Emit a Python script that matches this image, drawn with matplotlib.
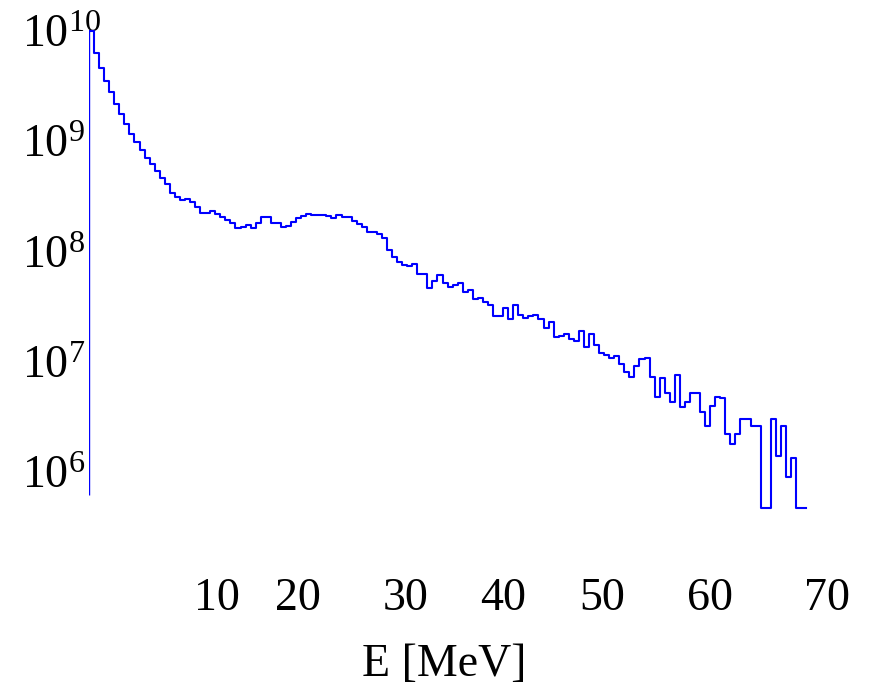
"""Energy spectrum histogram, log counts vs E [MeV]."""

import matplotlib

matplotlib.use("Agg")
import matplotlib.pyplot as plt
import numpy as np
from matplotlib.ticker import FixedLocator, LogFormatterMathtext

# bin edges: 0 .. 71 MeV in 0.5 MeV bins
bin_width = 0.5
n_bins = 142

# log10(counts) per bin
log_counts = [
    10.00, 9.80, 9.66, 9.55, 9.45, 9.34, 9.25, 9.16, 9.07, 8.99,
    8.92, 8.85, 8.79, 8.73, 8.67, 8.61, 8.53, 8.49, 8.47, 8.48,
    8.45, 8.40, 8.35, 8.35, 8.37, 8.34, 8.31, 8.29, 8.26, 8.21,
    8.22, 8.24, 8.21, 8.26, 8.31, 8.31, 8.26, 8.26, 8.22, 8.23,
    8.27, 8.30, 8.32, 8.34, 8.33, 8.33, 8.33, 8.32, 8.30, 8.33,
    8.31, 8.31, 8.28, 8.25, 8.22, 8.18, 8.18, 8.16, 8.12, 8.01,
    7.95, 7.90, 7.88, 7.87, 7.89, 7.80, 7.80, 7.67, 7.73, 7.79,
    7.71, 7.68, 7.70, 7.71, 7.63, 7.65, 7.57, 7.58, 7.54, 7.51,
    7.41, 7.41, 7.49, 7.39, 7.51, 7.42, 7.40, 7.41, 7.42, 7.39,
    7.31, 7.36, 7.22, 7.23, 7.25, 7.21, 7.19, 7.28, 7.13, 7.25,
    7.15, 7.08, 7.06, 7.03, 7.05, 6.98, 6.91, 6.86, 6.96, 7.02,
    7.03, 6.86, 6.68, 6.85, 6.72, 6.63, 6.88, 6.59, 6.63, 6.72,
    6.72, 6.54, 6.42, 6.60, 6.68, 6.67, 6.34, 6.25, 6.34, 6.48,
    6.48, 6.42, 6.42, 5.67, 5.67, 6.48, 6.14, 6.42, 5.95, 6.13,
    5.67, 5.67,
]
baseline_log = 5.79

y_ticks = [1e6, 1e7, 1e8, 1e9, 1e10]
x_tick_labels = ["10", "20", "30", "40", "50", "60", "70"]
# where the labels sit in the source picture (MeV)
x_tick_pos = [12.7, 20.7, 31.3, 41.0, 50.8, 61.5, 73.1]

plt.rcParams["font.family"] = ["Liberation Serif", "DejaVu Serif"]
plt.rcParams["mathtext.fontset"] = "custom"
plt.rcParams["mathtext.rm"] = "Liberation Serif"

W, H = 871, 690
fig = plt.figure(figsize=(W / 100, H / 100), dpi=100)

# axes placement in pixels
x0_px, px_per_mev = 89, 10.1
xlim = (0, 76)
y_top_px, y_bot_px = 20, 516
ax = fig.add_axes([
    x0_px / W,
    1 - y_bot_px / H,
    (xlim[1] - xlim[0]) * px_per_mev / W,
    (y_bot_px - y_top_px) / H,
])

counts = 10 ** np.asarray(log_counts)
edges = np.arange(n_bins + 1) * bin_width

xs = edges
ys = np.append(counts, counts[-1])
ax.plot(xs, ys, drawstyle="steps-post", color="#0000ff", lw=1.5)
ax.vlines(edges[0], 10 ** baseline_log, counts[0], color="#0000ff", lw=1.0)

ax.set_yscale("log")
ax.set_xlim(*xlim)
ax.set_ylim(10 ** 5.6, 10 ** 10.1)

for s in ax.spines.values():
    s.set_visible(False)

ax.yaxis.set_major_locator(FixedLocator(y_ticks))
ax.yaxis.set_minor_locator(FixedLocator([]))
ax.yaxis.set_major_formatter(LogFormatterMathtext())
ax.tick_params(axis="y", length=0, pad=48, labelsize=33)
for lab in ax.get_yticklabels():
    lab.set_horizontalalignment("left")

ax.set_xticks(x_tick_pos)
ax.set_xticklabels(x_tick_labels)
ax.tick_params(axis="x", length=0, pad=44, labelsize=33)

fig.text(444 / W, 1 - 665 / H, "E [MeV]", ha="center", va="center", fontsize=33)

fig.savefig("out.png", dpi=100, facecolor="white")
